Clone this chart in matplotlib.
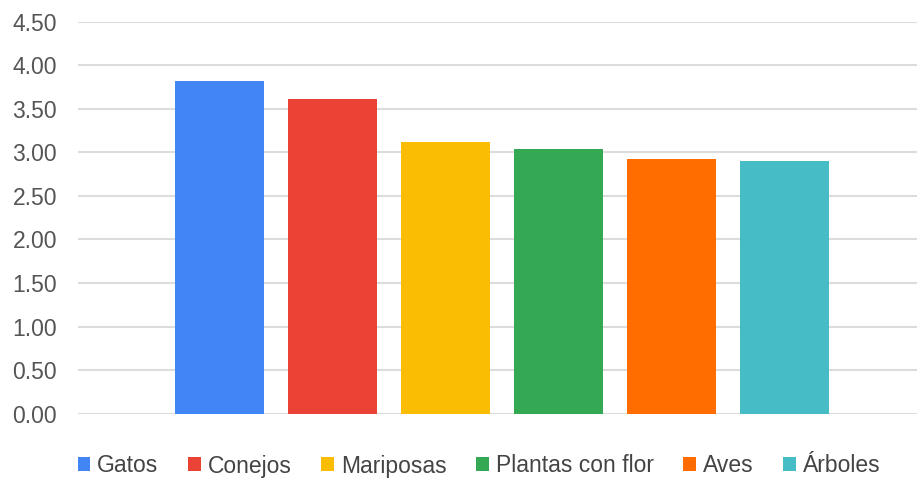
import matplotlib
matplotlib.use("Agg")
import matplotlib.pyplot as plt
from matplotlib.patches import Patch

categories = ["Gatos", "Conejos", "Mariposas", "Plantas con flor", "Aves", "Árboles"]
values = [3.82, 3.61, 3.12, 3.04, 2.92, 2.90]
colors = ["#4285F4", "#EA4335", "#FBBC04", "#34A853", "#FF6D01", "#46BDC6"]
yticks = [0.0, 0.5, 1.0, 1.5, 2.0, 2.5, 3.0, 3.5, 4.0, 4.5]

plt.rcParams['font.family'] = ['Liberation Sans', 'DejaVu Sans']

fig = plt.figure(figsize=(9.17, 4.80), dpi=100)
ax = fig.add_axes([78/917, 1-413.7/480, 1-78/917, (413.7-21.7)/480])

x = list(range(len(categories)))
ax.bar(x, values, width=0.79, color=colors, zorder=3)

ax.set_xlim((78-219.5)/113, (917-219.5)/113)
ax.set_ylim(0, 4.5)
ax.set_yticks(yticks)
ax.set_yticklabels([f"{v:.2f}" for v in yticks])
ax.set_xticks([])
ax.grid(axis='y', color='#dcdcdc', linewidth=1.5, zorder=0)
for s in ax.spines.values():
    s.set_visible(False)
ax.tick_params(axis='y', length=0, pad=15, labelsize=16.5, labelcolor='#555555')
ax.set_axisbelow(True)

handles = [Patch(facecolor=c, edgecolor='none') for c in colors]
fig.legend(handles, categories, loc='center', bbox_to_anchor=(479/917, 1-466/480),
           ncol=6, frameon=False, fontsize=16.5, handlelength=0.55, handleheight=0.55,
           handletextpad=0.3, columnspacing=1.3, labelcolor='#444444')

fig.savefig("out.png", dpi=100)
